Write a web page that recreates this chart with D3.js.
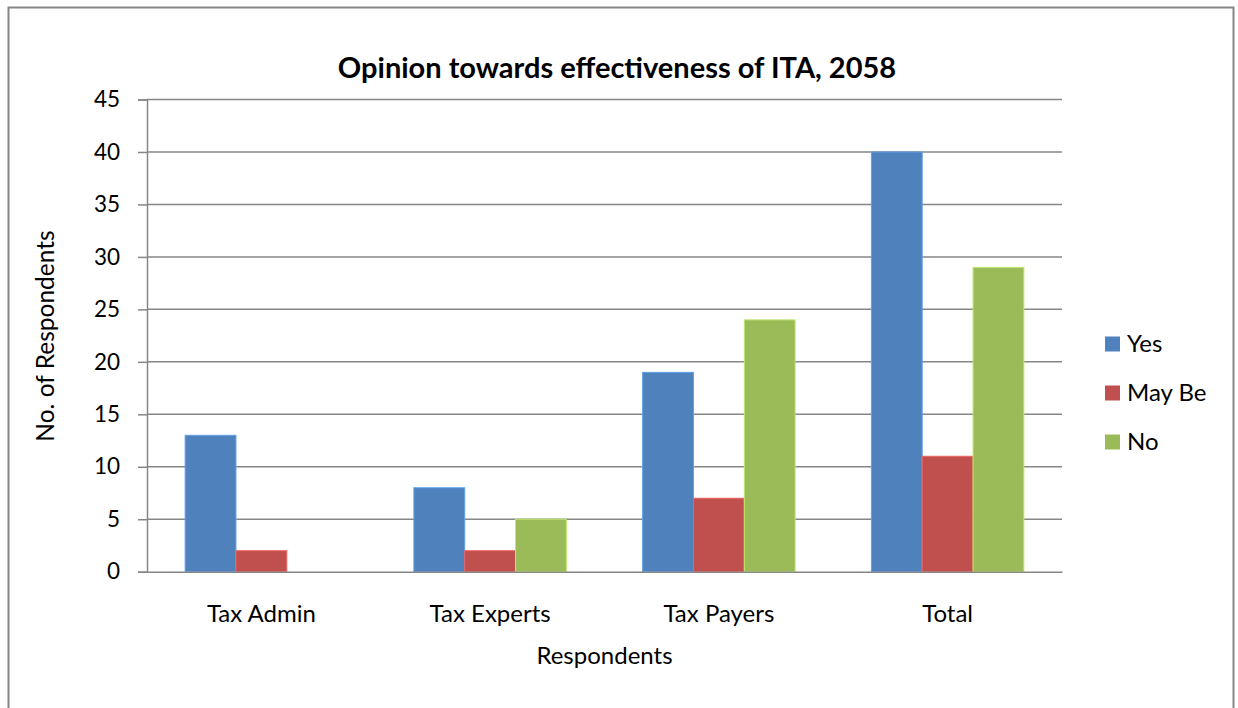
<!DOCTYPE html>
<html>
<head>
<meta charset="utf-8">
<script src="https://cdn.jsdelivr.net/npm/d3@7/dist/d3.min.js"></script>
<style>
  html, body { margin: 0; padding: 0; background: #fff; }
  svg { display: block; font-family: Lato, "Open Sans", sans-serif; }
</style>
</head>
<body>
<svg id="chart" width="1238" height="708"></svg>
<script>
// Survey responses by respondent group
const categories = ["Tax Admin", "Tax Experts", "Tax Payers", "Total"];
const seriesNames = ["Yes", "May Be", "No"];
const yesValues = [13, 8, 19, 40];
const mayBeValues = [2, 2, 7, 11];
const noValues = [0, 5, 24, 29];
const yTicks = [0, 5, 10, 15, 20, 25, 30, 35, 40, 45];
const seriesColors = ["#4F81BD", "#C0504D", "#9BBB59"];

const seriesValues = [yesValues, mayBeValues, noValues];
const rows = categories.map((c, i) => ({
  category: c,
  values: seriesNames.map((s, j) => ({ series: s, value: seriesValues[j][i] }))
}));

const svg = d3.select("#chart");
const W = 1238, H = 708;
const margin = { left: 147, right: 176, top: 99.5, bottom: 136.3 };
const plotW = W - margin.left - margin.right;
const plotH = H - margin.top - margin.bottom;

// Outer chart frame
svg.append("rect")
  .attr("x", 8.5).attr("y", 7.5)
  .attr("width", 1225).attr("height", 730)
  .attr("fill", "#fff")
  .attr("stroke", "#868686").attr("stroke-width", 2);

const g = svg.append("g").attr("transform", `translate(${margin.left},${margin.top})`);

const x0 = d3.scaleBand().domain(categories).range([0, plotW]).paddingInner(1.5 / 4.5).paddingOuter(0.75 / 4.5);
const x1 = d3.scaleBand().domain(seriesNames).range([0, x0.bandwidth()]);
const y = d3.scaleLinear().domain([0, 45]).range([plotH, 0]);
const color = d3.scaleOrdinal().domain(seriesNames).range(seriesColors);

// Horizontal gridlines
g.append("g")
  .selectAll("line")
  .data(yTicks.filter(t => t > 0))
  .join("line")
  .attr("x1", 0).attr("x2", plotW)
  .attr("y1", d => y(d)).attr("y2", d => y(d))
  .attr("stroke", "#868686").attr("stroke-width", 1.5);

// Bars
g.append("g")
  .selectAll("g")
  .data(rows)
  .join("g")
  .attr("transform", d => `translate(${x0(d.category)},0)`)
  .selectAll("rect")
  .data(d => d.values)
  .join("rect")
  .attr("x", d => x1(d.series))
  .attr("y", d => y(d.value))
  .attr("width", x1.bandwidth())
  .attr("height", d => y(0) - y(d.value))
  .attr("fill", d => color(d.series))
  .attr("stroke", d => d3.color(color(d.series)).brighter(0.6))
  .attr("stroke-width", 1);

// Y axis
const yAxis = g.append("g")
  .call(d3.axisLeft(y).tickValues(yTicks).tickSize(9).tickPadding(18));
yAxis.select(".domain").attr("stroke", "#868686").attr("stroke-width", 1.5);
yAxis.selectAll(".tick line").attr("stroke", "#868686").attr("stroke-width", 1.5);
yAxis.selectAll(".tick text")
  .attr("font-size", 22.5).attr("fill", "#000").attr("font-family", "Lato, sans-serif");

// X axis
const xAxis = g.append("g")
  .attr("transform", `translate(0,${plotH})`)
  .call(d3.axisBottom(x0).tickSize(0).tickPadding(33));
xAxis.select(".domain").attr("stroke", "#868686").attr("stroke-width", 1.5);
xAxis.selectAll(".tick text")
  .attr("font-size", 24).attr("fill", "#000").attr("font-family", "Lato, sans-serif");

// Title
svg.append("text")
  .attr("x", 617).attr("y", 78)
  .attr("text-anchor", "middle")
  .attr("font-size", 29).attr("font-weight", "bold")
  .text("Opinion towards effectiveness of ITA, 2058");

// Axis titles
svg.append("text")
  .attr("x", margin.left + plotW / 2).attr("y", 664)
  .attr("text-anchor", "middle")
  .attr("font-size", 24)
  .text("Respondents");

svg.append("text")
  .attr("transform", "translate(54,336) rotate(-90)")
  .attr("text-anchor", "middle")
  .attr("font-size", 24.5)
  .text("No. of Respondents");

// Legend
const legend = svg.append("g").attr("transform", "translate(1105,344)");
const item = legend.selectAll("g")
  .data(seriesNames)
  .join("g")
  .attr("transform", (d, i) => `translate(0,${i * 49})`);
item.append("rect")
  .attr("x", 0).attr("y", -7.5)
  .attr("width", 15).attr("height", 15)
  .attr("fill", d => color(d));
item.append("text")
  .attr("x", 22).attr("y", 0)
  .attr("dy", "0.35em")
  .attr("font-size", 24)
  .text(d => d);
</script>
</body>
</html>
